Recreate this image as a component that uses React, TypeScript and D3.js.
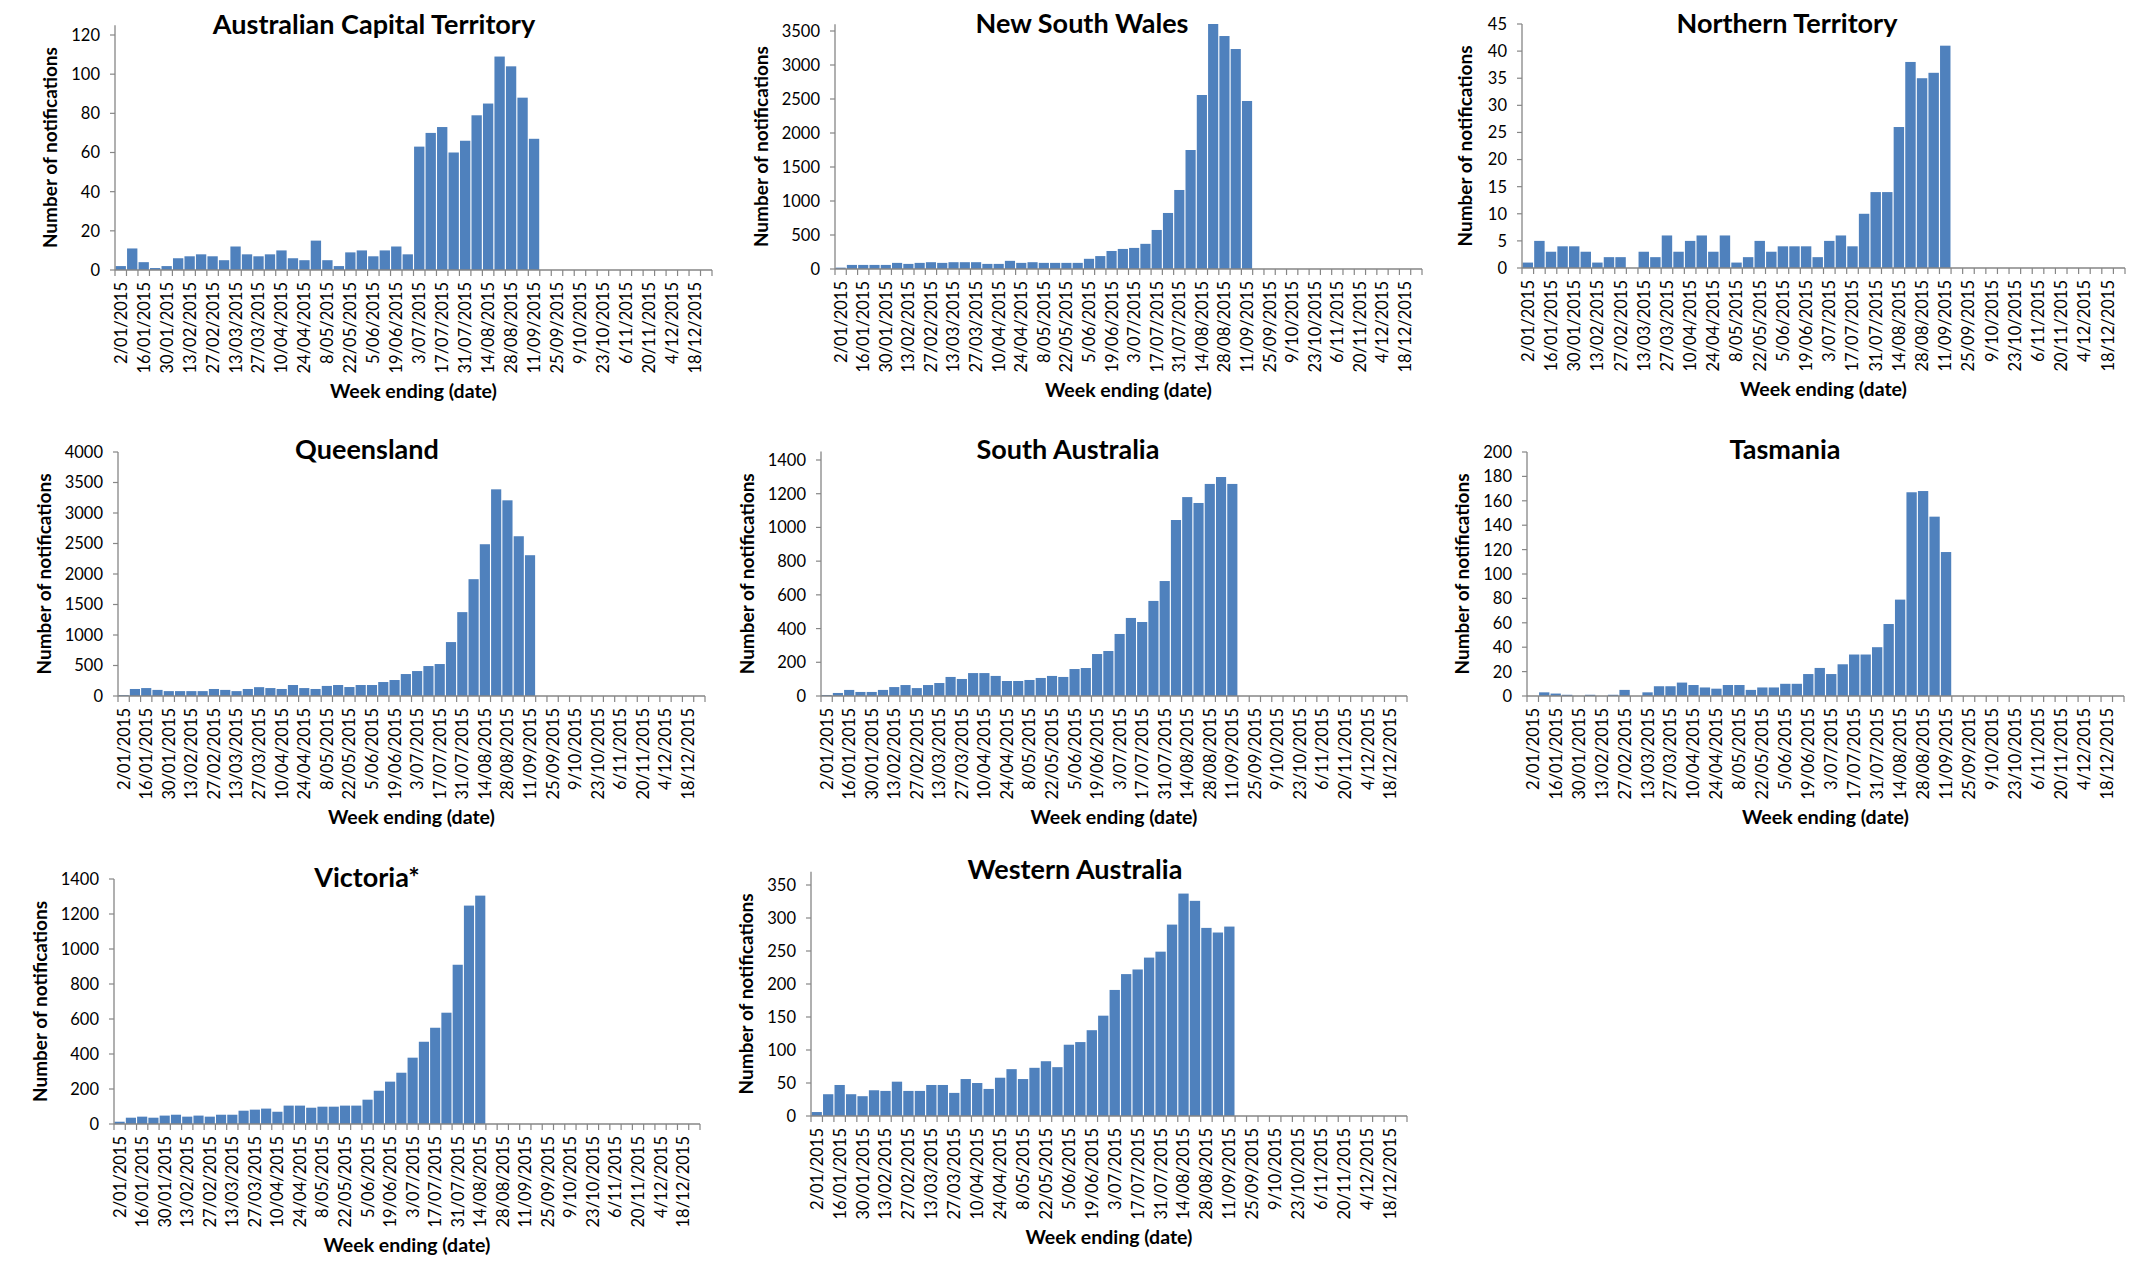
import React from "react";
import * as d3 from "d3";

const weeks = [
  "2/01/2015", "9/01/2015", "16/01/2015", "23/01/2015", "30/01/2015", "6/02/2015", "13/02/2015", "20/02/2015",
  "27/02/2015", "6/03/2015", "13/03/2015", "20/03/2015", "27/03/2015", "3/04/2015", "10/04/2015", "17/04/2015",
  "24/04/2015", "1/05/2015", "8/05/2015", "15/05/2015", "22/05/2015", "29/05/2015", "5/06/2015", "12/06/2015",
  "19/06/2015", "26/06/2015", "3/07/2015", "10/07/2015", "17/07/2015", "24/07/2015", "31/07/2015", "7/08/2015",
  "14/08/2015", "21/08/2015", "28/08/2015", "4/09/2015", "11/09/2015", "18/09/2015", "25/09/2015", "2/10/2015",
  "9/10/2015", "16/10/2015", "23/10/2015", "30/10/2015", "6/11/2015", "13/11/2015", "20/11/2015", "27/11/2015",
  "4/12/2015", "11/12/2015", "18/12/2015", "25/12/2015",
];

const act = [2, 11, 4, 1, 2, 6, 7, 8, 7, 5, 12, 8, 7, 8, 10, 6, 5, 15, 5, 2, 9, 10, 7, 10, 12, 8, 63, 70, 73, 60, 66, 79, 85, 109, 104, 88, 67];
const nsw = [20, 60, 60, 60, 60, 90, 75, 90, 100, 90, 100, 100, 100, 75, 75, 120, 90, 100, 90, 90, 90, 90, 150, 190, 265, 295, 310, 370, 574, 824, 1162, 1750, 2559, 3603, 3426, 3235, 2471];
const nt = [1, 5, 3, 4, 4, 3, 1, 2, 2, 0, 3, 2, 6, 3, 5, 6, 3, 6, 1, 2, 5, 3, 4, 4, 4, 2, 5, 6, 4, 10, 14, 14, 26, 38, 35, 36, 41];
const qld = [15, 115, 130, 100, 80, 80, 80, 80, 115, 100, 80, 115, 145, 130, 115, 180, 130, 115, 165, 180, 147, 180, 180, 229, 262, 360, 409, 491, 524, 884, 1375, 1915, 2488, 3388, 3208, 2619, 2308];
const sa = [6, 18, 36, 24, 24, 36, 53, 65, 47, 65, 77, 113, 101, 136, 136, 119, 89, 89, 95, 107, 119, 113, 160, 166, 249, 267, 368, 463, 439, 564, 682, 1044, 1180, 1145, 1258, 1299, 1258];
const tas = [0, 3, 2, 1, 0, 1, 0, 1, 5, 0, 3, 8, 8, 11, 9, 7, 6, 9, 9, 5, 7, 7, 10, 10, 18, 23, 18, 26, 34, 34, 40, 59, 79, 167, 168, 147, 118];
const vic = [13, 36, 42, 36, 48, 53, 42, 48, 42, 53, 53, 76, 82, 88, 70, 105, 105, 93, 99, 99, 105, 105, 139, 190, 242, 293, 379, 470, 550, 636, 910, 1248, 1305];
const wa = [6, 33, 47, 33, 30, 39, 38, 52, 38, 38, 47, 47, 35, 56, 50, 41, 58, 71, 56, 73, 83, 74, 108, 112, 130, 152, 191, 215, 222, 240, 249, 290, 337, 326, 285, 278, 287];

const actTicks = [0, 20, 40, 60, 80, 100, 120];
const nswTicks = [0, 500, 1000, 1500, 2000, 2500, 3000, 3500];
const ntTicks = [0, 5, 10, 15, 20, 25, 30, 35, 40, 45];
const qldTicks = [0, 500, 1000, 1500, 2000, 2500, 3000, 3500, 4000];
const saTicks = [0, 200, 400, 600, 800, 1000, 1200, 1400];
const tasTicks = [0, 20, 40, 60, 80, 100, 120, 140, 160, 180, 200];
const vicTicks = [0, 200, 400, 600, 800, 1000, 1200, 1400];
const waTicks = [0, 50, 100, 150, 200, 250, 300, 350];

const titles = [
  "Australian Capital Territory", "New South Wales", "Northern Territory",
  "Queensland", "South Australia", "Tasmania", "Victoria*", "Western Australia",
];
const seriesList = [act, nsw, nt, qld, sa, tas, vic, wa];
const tickList = [actTicks, nswTicks, ntTicks, qldTicks, saTicks, tasTicks, vicTicks, waTicks];
const axisMax = [125, 3600, 45, 4000, 1450, 200, 1400, 370];

const yTitle = "Number of notifications";
const xTitle = "Week ending (date)";

// layout (pixels)
const layout = [
  { left: 115, right: 712, zero: 270, topTickY: 35, titleX: 374, titleY: 34 },
  { left: 835, right: 1422, zero: 269, topTickY: 31, titleX: 1082, titleY: 33 },
  { left: 1522, right: 2125, zero: 268, topTickY: 24, titleX: 1787, titleY: 33 },
  { left: 118, right: 705, zero: 696, topTickY: 452, titleX: 367, titleY: 459 },
  { left: 821, right: 1407, zero: 696, topTickY: 460, titleX: 1068, titleY: 459 },
  { left: 1527, right: 2124, zero: 696, topTickY: 452, titleX: 1785, titleY: 459 },
  { left: 114, right: 700, zero: 1124, topTickY: 879, titleX: 367, titleY: 887 },
  { left: 811, right: 1407, zero: 1116, topTickY: 885, titleX: 1075, titleY: 879 },
];

const FONT = "Lato, 'Open Sans', sans-serif";
const BAR = "#4F81BD";
const AXIS = "#868686";

function Panel({ idx }: { idx: number }) {
  const L = layout[idx];
  const data = seriesList[idx];
  const ticks = tickList[idx];
  const topTick = ticks[ticks.length - 1];
  const x = d3.scaleBand<string>().domain(weeks).range([L.left, L.right]).paddingInner(0).paddingOuter(0);
  const y = d3.scaleLinear().domain([0, topTick]).range([L.zero, L.topTickY]);
  const bandW = x.bandwidth();
  const barW = bandW * 0.9;
  const boundaries = d3.range(weeks.length + 1).map((i) => L.left + i * bandW);
  const maxDigits = d3.max(ticks, (t) => String(t).length) || 1;
  const yTitleX = L.left - (40 + 8.4 * maxDigits);
  const midY = (L.zero + y(axisMax[idx])) / 2;
  return (
    <g>
      {data.map((v, i) => {
        const cx = (x(weeks[i]) as number) + bandW / 2;
        return v > 0 ? (
          <rect key={i} x={cx - barW / 2} width={barW} y={y(v)} height={L.zero - y(v)} fill={BAR} />
        ) : null;
      })}
      <line x1={L.left} x2={L.left} y1={L.zero} y2={y(axisMax[idx])} stroke={AXIS} strokeWidth={1.3} />
      <line x1={L.left} x2={L.right} y1={L.zero} y2={L.zero} stroke={AXIS} strokeWidth={1.3} />
      {boundaries.map((bx, i) => (
        <line key={"xt" + i} x1={bx} x2={bx} y1={L.zero} y2={L.zero + 6} stroke={AXIS} strokeWidth={1.2} />
      ))}
      {ticks.map((t) => (
        <g key={"yt" + t}>
          <line x1={L.left - 5} x2={L.left} y1={y(t)} y2={y(t)} stroke={AXIS} strokeWidth={1.2} />
          <text x={L.left - 15} y={y(t)} dy="0.36em" textAnchor="end" fontFamily={FONT} fontSize={16.5} fill="#000">
            {t}
          </text>
        </g>
      ))}
      {weeks.map((w, i) =>
        i % 2 === 0 ? (
          <text
            key={"xl" + i}
            transform={`translate(${(x(w) as number) + bandW / 2},${L.zero + 12}) rotate(-90)`}
            dy="0.36em"
            textAnchor="end"
            fontFamily={FONT}
            fontSize={16.5}
            fill="#000"
          >
            {w}
          </text>
        ) : null
      )}
      <text x={L.titleX} y={L.titleY} textAnchor="middle" fontFamily={FONT} fontWeight={700} fontSize={27} fill="#000">
        {titles[idx]}
      </text>
      <text
        transform={`translate(${yTitleX},${midY}) rotate(-90)`}
        dy="0.36em"
        textAnchor="middle"
        fontFamily={FONT}
        fontWeight={700}
        fontSize={19}
        fill="#000"
      >
        {yTitle}
      </text>
      <text x={(L.left + L.right) / 2} y={L.zero + 128} textAnchor="middle" fontFamily={FONT} fontWeight={700} fontSize={19.5} fill="#000">
        {xTitle}
      </text>
    </g>
  );
}

export default function App() {
  return (
    <svg
      width={2141}
      height={1284}
      style={{ position: "absolute", left: 0, top: 0, background: "#fff" }}
      xmlns="http://www.w3.org/2000/svg"
    >
      <rect width={2141} height={1284} fill="#fff" />
      {titles.map((_, i) => (
        <Panel key={i} idx={i} />
      ))}
    </svg>
  );
}
